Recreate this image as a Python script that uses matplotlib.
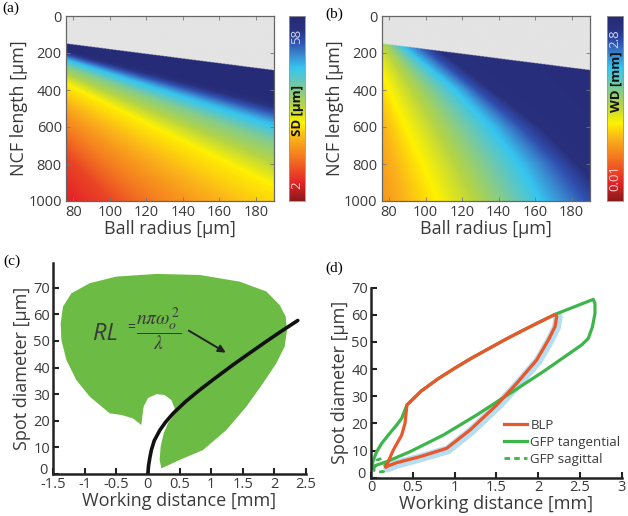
import numpy as np
import matplotlib
matplotlib.use('Agg')
import matplotlib.pyplot as plt
from matplotlib.colors import LinearSegmentedColormap
from matplotlib.patches import Polygon

plt.rcParams['font.family'] = ['Open Sans', 'DejaVu Sans']
plt.rcParams['mathtext.fontset'] = 'stix'
plt.rcParams['axes.unicode_minus'] = False

TXT = '#3a3a3a'

# ---- (a)/(b) maps: ball radius [um] x NCF length [um]
ball_r = np.linspace(76, 190, 400)
ncf_len = np.linspace(0, 1000, 400)
# shortest usable NCF (grey region above)
edge_r = [76, 190]
edge_L = [148, 292]
# (a) spot diameter read along iso-lines of NCF length / ball radius
sd_ratio = [1.5, 2.4, 2.7, 3.05, 3.6, 4.9, 7.0, 10.0, 13.5]
sd_um = [58, 58, 51.3, 43.4, 35.6, 25.0, 18.3, 10.5, 6.5]
# (b) working distance: radius where each WD level is crossed, per NCF length row
iso_L = [150, 400, 600, 800, 1000]
wd_levels = [0.57, 0.85, 1.15, 1.54, 2.07, 2.41, 2.66, 2.80]
wd_iso_r = [
    [40, 40, 40, 40, 40],
    [55, 66, 71, 75, 79],
    [68, 78, 87, 96, 104],
    [78, 97, 110, 122, 133],
    [87, 118, 138, 154, 166],
    [96, 128, 152, 172, 188],
    [104, 138, 165, 185, 205],
    [260, 260, 260, 260, 260],
]

# ---- (c) achievable region and Rayleigh-length curve
blob_x = [0.872, 1.240, 1.557, 1.820, 2.031, 2.163, 2.200, 2.179, 2.084, 1.873,
          1.451, 0.819, 0.134, -0.499, -0.920, -1.210, -1.342, -1.379, -1.368,
          -1.289, -1.131, -0.920, -0.604, -0.420, -0.235, -0.103, -0.088, -0.067,
          0.002, 0.134, 0.265, 0.371, 0.424, 0.397, 0.318, 0.250, 0.202, 0.186,
          0.213, 0.503]
blob_y = [9.0, 16.5, 25.3, 34.1, 41.6, 47.9, 54.1, 59.2, 63.5, 68.6,
          72.3, 74.8, 75.2, 74.2, 71.7, 67.9, 62.9, 56.6, 50.4,
          42.9, 35.3, 29.1, 22.8, 22.2, 20.9, 18.4, 21.6, 25.3,
          28.5, 30.0, 29.7, 27.8, 24.7, 21.6, 19.1, 15.3, 10.3, 5.3,
          2.1, 5.3]
rl_x = [0, 0.01, 0.03, 0.055, 0.1, 0.19, 0.28, 0.40, 0.6, 0.82, 1.05, 1.35, 1.6, 1.87, 2.1, 2.37]
rl_y = [0, 3, 6, 9, 12.5, 16.5, 19.5, 22.8, 27.3, 31.6, 35.8, 41.1, 45.3, 49.8, 53.5, 57.7]

# ---- (d) curves
blp_x = [0.180, 0.307, 0.586, 0.905, 1.185, 1.504, 1.743, 1.982, 2.122, 2.202, 2.222, 2.202,
         2.0, 1.8, 1.6, 1.4, 1.2, 1.0, 0.8, 0.6, 0.43, 0.407, 0.367, 0.267, 0.180]
blp_y = [4.05, 5.53, 7.74, 10.81, 17.56, 26.77, 34.75, 43.35, 50.72, 55.63, 59.31, 60.17,
         57.1, 54.0, 50.8, 47.4, 44.0, 40.3, 36.4, 31.9, 26.8, 20.02, 15.72, 10.19, 4.05]
halo_x = [0.20, 0.31, 0.59, 0.92, 1.20, 1.52, 1.76, 2.00, 2.14, 2.22, 2.24]
halo_y = [3.6, 5.0, 7.3, 10.3, 17.2, 26.5, 34.5, 43.1, 50.5, 55.5, 59.5]
tan_x = [0.008, 0.028, 0.068, 0.128, 0.207, 0.307, 0.367, 0.43, 0.6, 0.8, 1.0, 1.2, 1.4,
         1.6, 1.8, 2.0, 2.202, 2.66, 2.68, 2.68, 2.65, 2.60, 2.52, 2.06, 1.663, 1.264, 0.866,
         0.467, 0.187, 0.068, 0.008]
tan_y = [3.44, 6.51, 9.58, 12.65, 15.72, 19.40, 21.86, 26.8, 31.9, 36.4, 40.3, 44.0, 47.4,
         50.8, 54.0, 57.1, 60.17, 65.7, 64.2, 60.5, 55.6, 51.3, 48.9, 39.05, 31.07, 23.09,
         15.72, 9.58, 5.89, 4.67, 3.44]
sag_x = [0.03, 0.07, 0.13, 0.17, 0.15, 0.07, 0.03]
sag_y = [2.8, 6.5, 7.1, 5.3, 2.2, 2.2, 2.8]

cmap = LinearSegmentedColormap.from_list('sd', [
    (0.00, '#8a1a1a'), (0.10, '#e42528'), (0.24, '#f47a20'), (0.34, '#fbb41a'),
    (0.42, '#fff200'), (0.52, '#b4d445'), (0.64, '#6cc8b0'), (0.72, '#36c6f0'),
    (0.79, '#3a8ad0'), (0.86, '#3050b0'), (0.93, '#29317f'), (1.00, '#262b77')])
cmap.set_bad('#e4e4e4')

fig = plt.figure(figsize=(6.28, 5.16), dpi=100)
W, H = 628.0, 516.0

R, L = np.meshgrid(ball_r, ncf_len)
grey = L < np.interp(R, edge_r, edge_L)
sd = np.ma.masked_where(grey, np.interp(L / R, sd_ratio, sd_um))
wd = np.empty_like(R)
for i, l in enumerate(ncf_len):
    rl = [np.interp(l, iso_L, row) for row in wd_iso_r]
    wd[i] = np.interp(ball_r, rl, wd_levels)
wd = np.ma.masked_where(grey, wd)


def heat(rect, crect, field, vmin, vmax, top, mid, bot, midy):
    ax = fig.add_axes(rect)
    ax.imshow(field, extent=[76, 190, 1000, 0], aspect='auto', cmap=cmap,
              vmin=vmin, vmax=vmax, interpolation='bilinear')
    ax.set_xticks(range(80, 181, 20))
    ax.set_yticks(range(0, 1001, 200))
    ax.tick_params(direction='in', top=True, right=True, length=3, width=0.6,
                   color='#777', labelsize=10.5, labelcolor=TXT, pad=3)
    for s in ax.spines.values():
        s.set_color('#666')
        s.set_linewidth(0.9)
    ax.set_xlabel('Ball radius [µm]', fontsize=13, color=TXT, labelpad=0)
    ax.set_ylabel('NCF length [µm]', fontsize=13, color=TXT, labelpad=0)
    cax = fig.add_axes(crect)
    cax.imshow(np.linspace(0, 1, 256)[:, None], aspect='auto', cmap=cmap, origin='lower')
    cax.set_xticks([])
    cax.set_yticks([])
    for s in cax.spines.values():
        s.set_color('#999')
        s.set_linewidth(0.6)
    cax.text(0.5, top[1], top[0], rotation=90, color='#d0d6f0', fontsize=9.5,
             ha='center', va='center', transform=cax.transAxes)
    cax.text(0.5, bot[1], bot[0], rotation=90, color='#f6d0d0', fontsize=9.5,
             ha='center', va='center', transform=cax.transAxes)
    cax.text(0.55, midy, mid, rotation=90, color='#111', fontsize=9.5, fontweight='bold',
             ha='center', va='center', transform=cax.transAxes)
    return ax


heat([66 / W, 1 - 201 / H, 208 / W, 185 / H], [289 / W, 1 - 201 / H, 16 / W, 185 / H],
     sd, 2, 58, ('58', 0.89), 'SD [µm]', ('2', 0.086), 0.49)
heat([381.7 / W, 1 - 201 / H, 208.3 / W, 185 / H], [606.7 / W, 1 - 201 / H, 16.3 / W, 185 / H],
     wd, 0.01, 2.8, ('2.8', 0.88), 'WD [mm]', ('0.01', 0.124), 0.645)

# ---- (c)
axc = fig.add_axes([53 / W, 1 - 474 / H, 253 / W, 211 / H])
axc.add_patch(Polygon(np.column_stack([blob_x, blob_y]), closed=True,
                      facecolor='#6cbb45', edgecolor='none'))
axc.plot(rl_x, rl_y, color='#111', lw=2.6, solid_capstyle='round')
axc.text(-0.86, 52.8, 'RL', style='italic', fontsize=17, color=TXT, ha='left', va='center')
axc.text(-0.33, 55.0, '=', fontsize=10, color=TXT, ha='left', va='center')
axc.text(0.17, 54.3, r'$\dfrac{n\pi\omega_o^{\,2}}{\lambda}$', fontsize=14, color=TXT,
         ha='center', va='center')
axc.annotate('', xy=(1.27, 45.1), xytext=(0.61, 54.4),
             arrowprops=dict(arrowstyle='-|>', color='#222', lw=1.4, mutation_scale=11))
axc.set_xlim(-1.5, 2.5)
axc.set_ylim(0, 79.3)
axc.set_xticks([-1.5, -1, -0.5, 0, 0.5, 1, 1.5, 2, 2.5])
axc.set_xticklabels(['-1.5', '-1', '-0.5', '0', '0.5', '1', '1.5', '2', '2.5'])

# ---- (d)
axd = fig.add_axes([371 / W, 1 - 477.7 / H, 250.7 / W, 190 / H])
axd.plot(halo_x, halo_y, color='#b5def2', lw=6.5, solid_capstyle='round', zorder=1)
axd.plot(tan_x, tan_y, color='#3cb54a', lw=2.3, label='GFP tangential', zorder=2)
axd.plot(sag_x, sag_y, color='#3cb54a', lw=2.0, ls=(0, (2, 1.5)), label='GFP sagittal', zorder=2)
axd.plot(blp_x, blp_y, color='#e8582a', lw=2.3, label='BLP', zorder=3)
axd.set_xlim(0, 3)
axd.set_ylim(0, 70)
axd.set_xticks([0, 0.5, 1, 1.5, 2, 2.5, 3])
axd.set_xticklabels(['0', '0.5', '1', '1.5', '2', '2.5', '3'])
h, lab = axd.get_legend_handles_labels()
leg = axd.legend([h[2], h[0], h[1]], [lab[2], lab[0], lab[1]], loc='upper left',
                 bbox_to_anchor=(0.53, 0.31), frameon=False, fontsize=9.5, handlelength=1.75,
                 handletextpad=0.25, labelspacing=0.3, borderpad=0, borderaxespad=0)
for t in leg.get_texts():
    t.set_color(TXT)

for ax in (axc, axd):
    ax.set_yticks(range(0, 71, 10))
    ax.set_yticklabels([''] + [str(v) for v in range(10, 71, 10)])
    ax.text(-0.02, -0.02, '0', transform=ax.transAxes, fontsize=10.5, color=TXT,
            ha='right', va='bottom')
    for s in ('top', 'right'):
        ax.spines[s].set_visible(False)
    for s in ('left', 'bottom'):
        ax.spines[s].set_linewidth(1.8)
        ax.spines[s].set_color('#222')
    ax.tick_params(direction='in', length=4, width=1.5, color='#222', labelsize=10.5,
                   labelcolor=TXT, pad=2)
    ax.set_xlabel('Working distance [mm]', fontsize=13, color=TXT, labelpad=0)
    ax.set_ylabel('Spot diameter [µm]', fontsize=13, color=TXT, labelpad=2)

for lbl, x, y in (('(a)', 2, 2), ('(b)', 325, 8), ('(c)', 3, 255), ('(d)', 325, 262)):
    fig.text(x / W, 1 - y / H, lbl, family=['Liberation Serif', 'DejaVu Serif'],
             fontsize=11, ha='left', va='top')

fig.savefig('out.png', dpi=100)
